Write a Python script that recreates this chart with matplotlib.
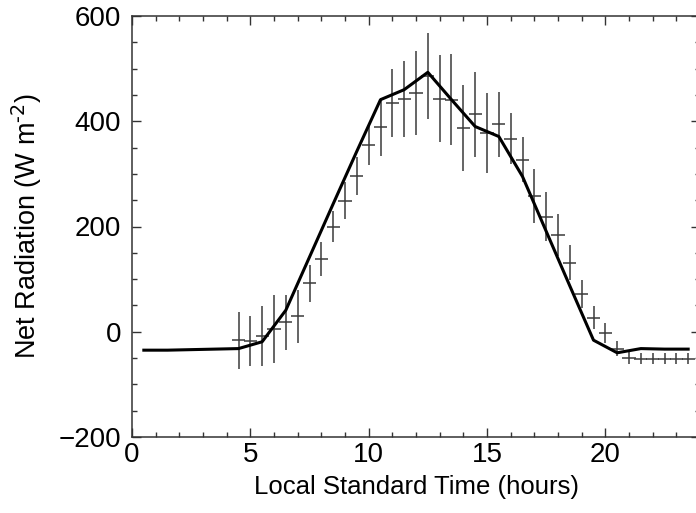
import matplotlib
matplotlib.use("Agg")
import matplotlib.pyplot as plt
from matplotlib.ticker import MultipleLocator

plt.rcParams['font.family'] = ['Liberation Sans', 'DejaVu Sans']

# modelled net radiation (solid line)
model_hours = [0.5, 1.5, 2.5, 3.5, 4.5, 5.5, 6.5, 7.5, 8.5, 9.5, 10.5, 11.5,
               12.5, 13.5, 14.5, 15.5, 16.5, 17.5, 18.5, 19.5, 20.5, 21.5, 22.5, 23.5]
model_rn = [-35, -35, -34, -33, -32, -19, 41, 142, 243, 343, 441, 460,
            493, 441, 390, 371, 295, 191, 87, -16, -40, -32, -33, -33]

# observed half-hourly means with spread (crosses)
obs_hours = [4.5, 5.0, 5.5, 6.0, 6.5, 7.0, 7.5, 8.0, 8.5, 9.0, 9.5, 10.0, 10.5,
             11.0, 11.5, 12.0, 12.5, 13.0, 13.5, 14.0, 14.5, 15.0, 15.5, 16.0,
             16.5, 17.0, 17.5, 18.0, 18.5, 19.0, 19.5, 20.0, 20.5, 21.0, 21.5,
             22.0, 22.5, 23.0, 23.5]
obs_rn = [-16, -18, -8, 5, 18, 29, 92, 138, 200, 249, 296, 354, 389,
          435, 443, 453, 486, 443, 441, 387, 413, 378, 394, 367,
          327, 258, 219, 183, 131, 72, 27, -3, -32, -49, -51,
          -51, -51, -51, -51]
obs_err = [54, 47, 57, 65, 52, 51, 35, 32, 29, 35, 37, 38, 55,
           64, 72, 80, 81, 83, 87, 82, 81, 76, 61, 49,
           43, 52, 46, 40, 33, 26, 21, 19, 14, 12, 10,
           10, 10, 10, 10]

fig = plt.figure(figsize=(6.96, 5.13), dpi=100)
ax = fig.add_axes([132 / 696, 1 - 437 / 513, 568 / 696, 421 / 513])

ax.errorbar(obs_hours, obs_rn, yerr=obs_err, xerr=0.28, fmt='none',
            ecolor='#3a3a3a', elinewidth=1.1, capsize=0)
ax.plot(model_hours, model_rn, color='black', lw=2.2)

ax.set_xlim(0, 24)
ax.set_ylim(-200, 600)
ax.xaxis.set_major_locator(MultipleLocator(5))
ax.xaxis.set_minor_locator(MultipleLocator(1))
ax.yaxis.set_major_locator(MultipleLocator(200))
ax.yaxis.set_minor_locator(MultipleLocator(50))
ax.tick_params(which='both', direction='in', top=True, right=True,
               color='#333333', width=1.0, labelsize=20)
ax.tick_params(which='major', length=6.5)
ax.tick_params(which='minor', length=3.4)
ax.tick_params(axis='y', which='major', pad=8)
for s in ax.spines.values():
    s.set_linewidth(1.1)
    s.set_color('#333333')

ax.set_xlabel("Local Standard Time (hours)", fontsize=18.5, labelpad=5)
ax.set_ylabel("Net Radiation (W m$^{\\text{-2}}$)", fontsize=19.5, labelpad=10)

fig.savefig("out.png", dpi=100)
